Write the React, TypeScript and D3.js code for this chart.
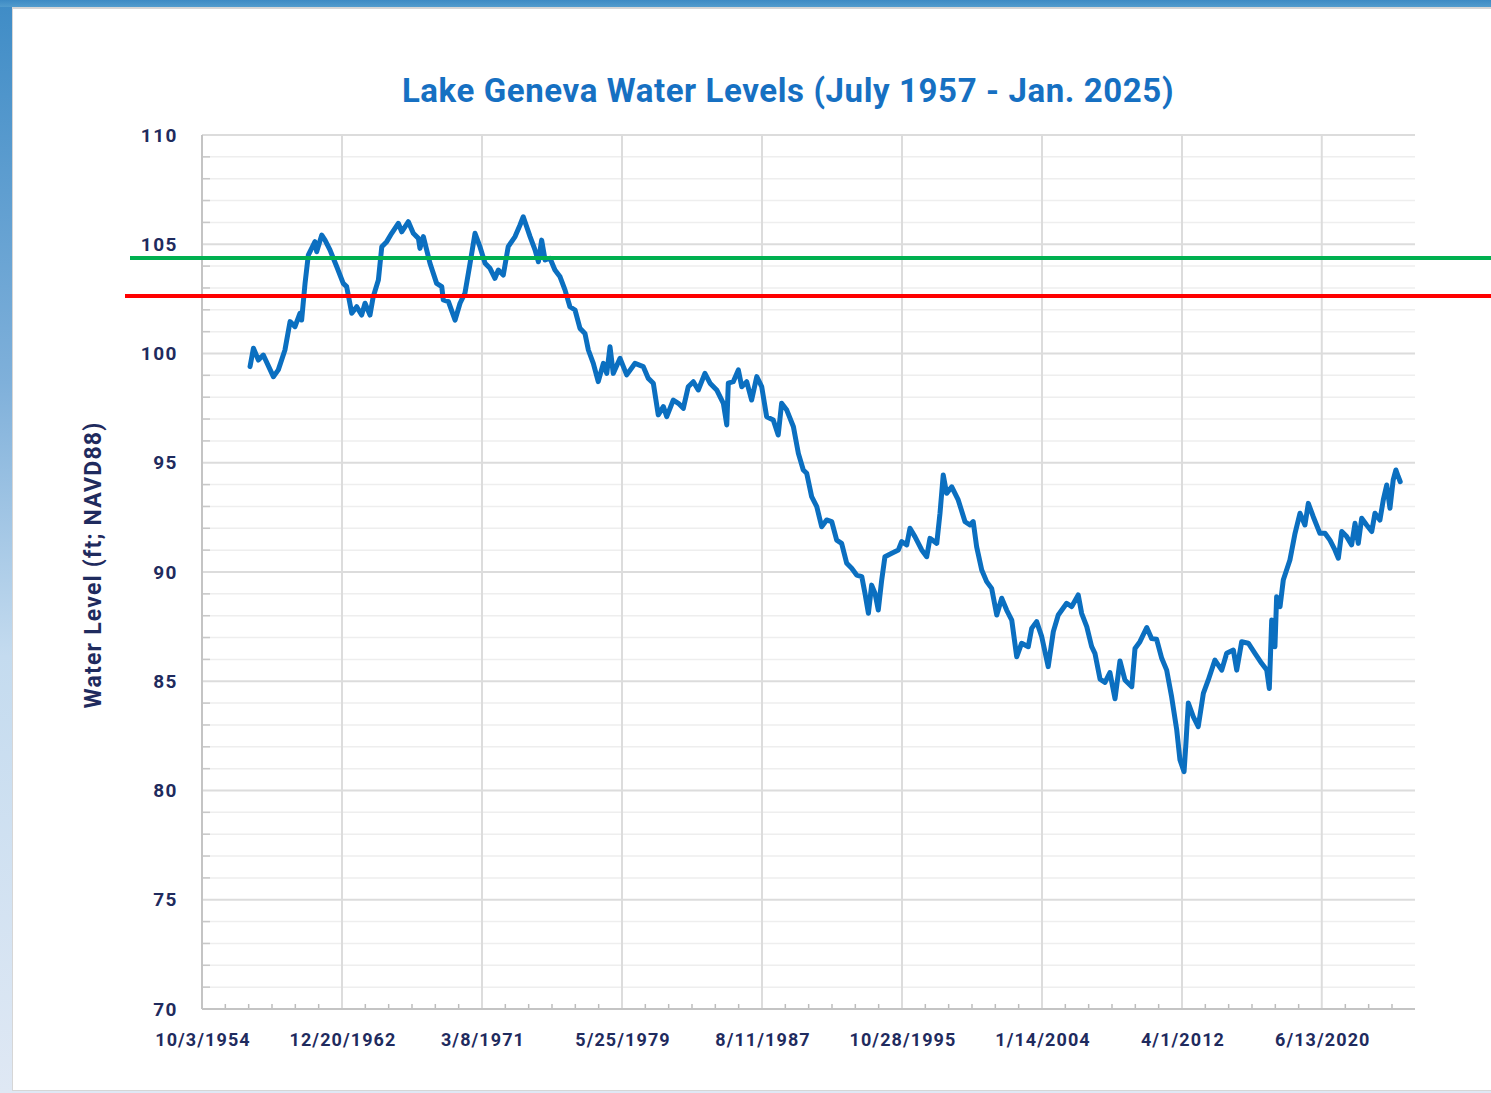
import * as d3 from "d3";

// Lake Geneva water levels (decimal year, ft NAVD88)
const years = [
  1957.57, 1957.77, 1958.06, 1958.35, 1958.94, 1959.23, 1959.62, 1959.92, 1960.21, 1960.5,
  1960.6, 1960.8, 1960.99, 1961.38, 1961.48, 1961.78, 1961.97, 1962.26, 1962.66, 1963.04,
  1963.24, 1963.54, 1963.83, 1964.12, 1964.32, 1964.61, 1964.8, 1965.1, 1965.3, 1965.59,
  1965.88, 1966.27, 1966.47, 1966.86, 1967.15, 1967.45, 1967.54, 1967.74, 1968.13, 1968.52,
  1968.82, 1968.91, 1969.21, 1969.6, 1969.89, 1970.18, 1970.48, 1970.77, 1971.06, 1971.36,
  1971.65, 1971.94, 1972.14, 1972.43, 1972.72, 1973.12, 1973.41, 1973.6, 1973.8, 1974.0,
  1974.29, 1974.49, 1974.68, 1974.88, 1975.17, 1975.46, 1975.76, 1976.05, 1976.34, 1976.64,
  1976.93, 1977.22, 1977.42, 1977.71, 1978.0, 1978.3, 1978.5, 1978.69, 1978.88, 1979.28,
  1979.67, 1980.16, 1980.64, 1980.94, 1981.23, 1981.52, 1981.82, 1982.02, 1982.4, 1982.7,
  1982.99, 1983.28, 1983.58, 1983.87, 1984.26, 1984.56, 1984.95, 1985.34, 1985.54, 1985.63,
  1985.92, 1986.22, 1986.42, 1986.71, 1987.0, 1987.3, 1987.59, 1987.88, 1988.27, 1988.56,
  1988.76, 1989.06, 1989.45, 1989.74, 1990.03, 1990.23, 1990.52, 1990.82, 1991.11, 1991.4,
  1991.7, 1991.99, 1992.28, 1992.58, 1992.87, 1993.16, 1993.46, 1993.65, 1993.85, 1994.04,
  1994.24, 1994.43, 1994.63, 1994.82, 1995.22, 1995.61, 1995.8, 1996.1, 1996.29, 1996.58,
  1996.98, 1997.27, 1997.46, 1997.86, 1998.05, 1998.24, 1998.44, 1998.74, 1999.12, 1999.52,
  1999.81, 2000.0, 2000.2, 2000.5, 2000.79, 2001.08, 2001.38, 2001.67, 2001.96, 2002.26,
  2002.55, 2002.84, 2003.23, 2003.43, 2003.72, 2004.02, 2004.4, 2004.7, 2004.99, 2005.48,
  2005.78, 2006.16, 2006.36, 2006.66, 2006.95, 2007.14, 2007.44, 2007.73, 2008.02, 2008.32,
  2008.61, 2008.9, 2009.3, 2009.49, 2009.78, 2010.18, 2010.47, 2010.76, 2011.06, 2011.35,
  2011.64, 2011.94, 2012.13, 2012.37, 2012.48, 2012.62, 2012.91, 2013.2, 2013.5, 2013.79,
  2014.18, 2014.58, 2014.87, 2015.26, 2015.46, 2015.75, 2016.14, 2016.53, 2016.92, 2017.22,
  2017.37, 2017.51, 2017.7, 2017.8, 2018.0, 2018.19, 2018.58, 2018.88, 2019.17, 2019.46,
  2019.66, 2019.95, 2020.34, 2020.64, 2020.93, 2021.22, 2021.42, 2021.62, 2021.91, 2022.2,
  2022.4, 2022.59, 2022.79, 2023.08, 2023.38, 2023.57, 2023.86, 2024.06, 2024.26, 2024.45,
  2024.64, 2024.8, 2024.94, 2025.05,
];

const levels = [
  99.4, 100.24, 99.7, 99.93, 98.94, 99.25, 100.16, 101.46, 101.23, 101.84,
  101.53, 103.21, 104.5, 105.12, 104.66, 105.42, 105.19, 104.74, 103.97, 103.21,
  103.06, 101.84, 102.14, 101.76, 102.3, 101.76, 102.6, 103.36, 104.89, 105.12,
  105.5, 105.96, 105.57, 106.03, 105.5, 105.27, 104.81, 105.35, 104.13, 103.21,
  103.06, 102.45, 102.37, 101.53, 102.3, 102.76, 104.13, 105.5, 104.89, 104.13,
  103.9, 103.44, 103.82, 103.59, 104.89, 105.35, 105.88, 106.26, 105.8, 105.35,
  104.74, 104.2, 105.19, 104.28, 104.36, 103.82, 103.51, 102.91, 102.14, 101.99,
  101.15, 100.92, 100.16, 99.55, 98.71, 99.55, 99.09, 100.31, 99.09, 99.78,
  99.02, 99.55, 99.4, 98.86, 98.64, 97.19, 97.57, 97.11, 97.87, 97.72,
  97.49, 98.48, 98.71, 98.33, 99.09, 98.64, 98.33, 97.72, 96.73, 98.64,
  98.71, 99.25, 98.48, 98.71, 97.87, 98.94, 98.48, 97.11, 96.96, 96.27,
  97.72, 97.41, 96.65, 95.43, 94.67, 94.52, 93.45, 92.99, 92.07, 92.38,
  92.31, 91.46, 91.31, 90.4, 90.17, 89.86, 89.79, 89.02, 88.11, 89.4,
  89.02, 88.26, 89.63, 90.7, 90.86, 91.01, 91.39, 91.24, 92.0, 91.62,
  91.01, 90.7, 91.54, 91.31, 92.69, 94.44, 93.6, 93.9, 93.3, 92.3,
  92.15, 92.31, 91.16, 90.09, 89.56, 89.25, 88.03, 88.8, 88.26, 87.8,
  86.12, 86.74, 86.58, 87.42, 87.73, 87.04, 85.67, 87.27, 88.03, 88.57,
  88.42, 88.95, 88.11, 87.5, 86.58, 86.28, 85.1, 84.95, 85.4, 84.2,
  85.93, 85.06, 84.75, 86.5, 86.81, 87.46, 86.95, 86.92, 86.05, 85.51,
  84.29, 82.77, 81.4, 80.86, 82.16, 84.0, 83.38, 82.92, 84.45, 85.06,
  85.97, 85.51, 86.28, 86.43, 85.51, 86.81, 86.74, 86.28, 85.82, 85.51,
  84.67, 87.8, 86.58, 88.87, 88.41, 89.63, 90.55, 91.77, 92.69, 92.15,
  93.14, 92.53, 91.77, 91.77, 91.46, 91.01, 90.63, 91.85, 91.62, 91.24,
  92.23, 91.31, 92.46, 92.15, 91.85, 92.69, 92.38, 93.3, 93.98, 92.92,
  94.21, 94.67, 94.36, 94.13,
];

const yTicks = [70, 75, 80, 85, 90, 95, 100, 105, 110];
const xTickLabels = [
  "10/3/1954", "12/20/1962", "3/8/1971", "5/25/1979", "8/11/1987",
  "10/28/1995", "1/14/2004", "4/1/2012", "6/13/2020",
];
// green and red reference levels drawn across the chart
const referenceLevels = [104.37, 102.63];

const TITLE = "Lake Geneva Water Levels (July 1957 - Jan. 2025)";
const Y_TITLE = "Water Level (ft; NAVD88)";

const W = 1491;
const H = 1093;
const PLOT = { left: 202, right: 1415, top: 135, bottom: 1009 };
const NAVY = "#1f2b5e";
const FONT = "Roboto, 'Liberation Sans', sans-serif";

const parseDate = d3.timeParse("%m/%d/%Y");

function yearToDate(y: number) {
  const yr = Math.floor(y);
  const start = new Date(yr, 0, 1).getTime();
  return new Date(start + (y - yr) * 365.25 * 864e5);
}

export default function App() {
  const xStart = parseDate(xTickLabels[0]) as Date;
  const xEnd = d3.timeDay.offset(xStart, 25993);

  const x = d3.scaleTime().domain([xStart, xEnd]).range([PLOT.left, PLOT.right]);
  const y = d3.scaleLinear().domain([70, 110]).range([PLOT.bottom, PLOT.top]);

  const points = years.map((yr, i) => ({ date: yearToDate(yr), level: levels[i] }));
  const line = d3
    .line<{ date: Date; level: number }>()
    .x((d) => x(d.date))
    .y((d) => y(d.level));

  const minorY = d3.range(70, 110.5, 1).filter((v) => v % 5 !== 0);
  const majorDates = xTickLabels.map((s) => parseDate(s) as Date);
  const minorDates = d3
    .range(1, 52)
    .map((i) => d3.timeDay.offset(xStart, i * 500))
    .filter((d) => d < xEnd && (d.getTime() - xStart.getTime()) / 864e5 % 3000 > 10);

  const refColors = ["#00b050", "#ff0000"];
  const refStarts = [130, 125];

  return (
    <div style={{ position: "absolute", left: 0, top: 0 }}>
      <svg width={W} height={H} style={{ display: "block" }}>
        <defs>
          <linearGradient id="frame" x1="0" y1="0" x2="0" y2="1">
            <stop offset="0" stopColor="#3f8cc6" />
            <stop offset="0.35" stopColor="#7fb0da" />
            <stop offset="0.6" stopColor="#c4dbef" />
            <stop offset="1" stopColor="#dfe8f4" />
          </linearGradient>
          <linearGradient id="topband" x1="0" y1="0" x2="0" y2="1">
            <stop offset="0" stopColor="#3d8ac4" />
            <stop offset="1" stopColor="#529ccd" />
          </linearGradient>
        </defs>

        {/* background frame */}
        <rect x={0} y={0} width={W} height={H} fill="url(#frame)" />
        <rect x={0} y={0} width={W} height={7} fill="url(#topband)" />
        <rect x={12} y={7} width={W - 12} height={H - 9} fill="#d6d6d6" />
        <rect x={13} y={9} width={W - 13} height={H - 12} fill="#ffffff" />

        {/* minor horizontal gridlines */}
        {minorY.map((v) => (
          <g key={`my${v}`}>
            <line x1={PLOT.left} x2={PLOT.right} y1={y(v)} y2={y(v)} stroke="#eeeeee" strokeWidth={1.5} />
            <line x1={PLOT.left} x2={PLOT.left + 8} y1={y(v)} y2={y(v)} stroke="#c8c8c8" strokeWidth={1.5} />
          </g>
        ))}
        {/* major horizontal gridlines */}
        {yTicks.map((v) => (
          <line key={`gy${v}`} x1={PLOT.left} x2={PLOT.right} y1={y(v)} y2={y(v)} stroke="#dcdcdc" strokeWidth={2} />
        ))}
        {/* vertical gridlines */}
        {majorDates.map((d, i) => (
          <line key={`gx${i}`} x1={x(d)} x2={x(d)} y1={PLOT.top} y2={PLOT.bottom} stroke="#dcdcdc" strokeWidth={2} />
        ))}
        {/* minor x ticks */}
        {minorDates.map((d, i) => (
          <line key={`mx${i}`} x1={x(d)} x2={x(d)} y1={PLOT.bottom - 5} y2={PLOT.bottom} stroke="#bdbdbd" strokeWidth={1.5} />
        ))}
        {/* axes */}
        <line x1={PLOT.left} x2={PLOT.left} y1={PLOT.top} y2={PLOT.bottom} stroke="#c4c4c4" strokeWidth={2} />
        <line x1={PLOT.left} x2={PLOT.right} y1={PLOT.bottom} y2={PLOT.bottom} stroke="#c4c4c4" strokeWidth={2} />

        {/* y tick labels */}
        {yTicks.map((v) => (
          <text
            key={`yl${v}`}
            x={178}
            y={y(v)}
            textAnchor="end"
            dominantBaseline="central"
            fontFamily={FONT}
            fontWeight={700}
            fontSize={19}
            letterSpacing={1.5}
            fill={NAVY}
          >
            {v}
          </text>
        ))}
        {/* x tick labels */}
        {majorDates.map((d, i) => (
          <text
            key={`xl${i}`}
            x={x(d) + 1}
            y={1039}
            textAnchor="middle"
            dominantBaseline="central"
            fontFamily={FONT}
            fontWeight={700}
            fontSize={18}
            letterSpacing={1.1}
            fill={NAVY}
          >
            {xTickLabels[i]}
          </text>
        ))}

        {/* axis title */}
        <text
          transform={`translate(93,565) rotate(-90)`}
          textAnchor="middle"
          dominantBaseline="central"
          fontFamily={FONT}
          fontWeight={700}
          fontSize={23}
          letterSpacing={1.2}
          fill={NAVY}
        >
          {Y_TITLE}
        </text>

        {/* chart title */}
        <text
          x={788}
          y={90}
          textAnchor="middle"
          dominantBaseline="central"
          fontFamily={FONT}
          fontWeight={700}
          fontSize={33}
          letterSpacing={0.6}
          fill="#1670c2"
        >
          {TITLE}
        </text>

        {/* data line */}
        <path d={line(points) ?? ""} fill="none" stroke="#0b6fc0" strokeWidth={5} strokeLinejoin="round" strokeLinecap="round" />

        {/* reference levels */}
        {referenceLevels.map((v, i) => (
          <line key={`ref${i}`} x1={refStarts[i]} x2={W} y1={y(v)} y2={y(v)} stroke={refColors[i]} strokeWidth={4} />
        ))}
      </svg>
    </div>
  );
}
